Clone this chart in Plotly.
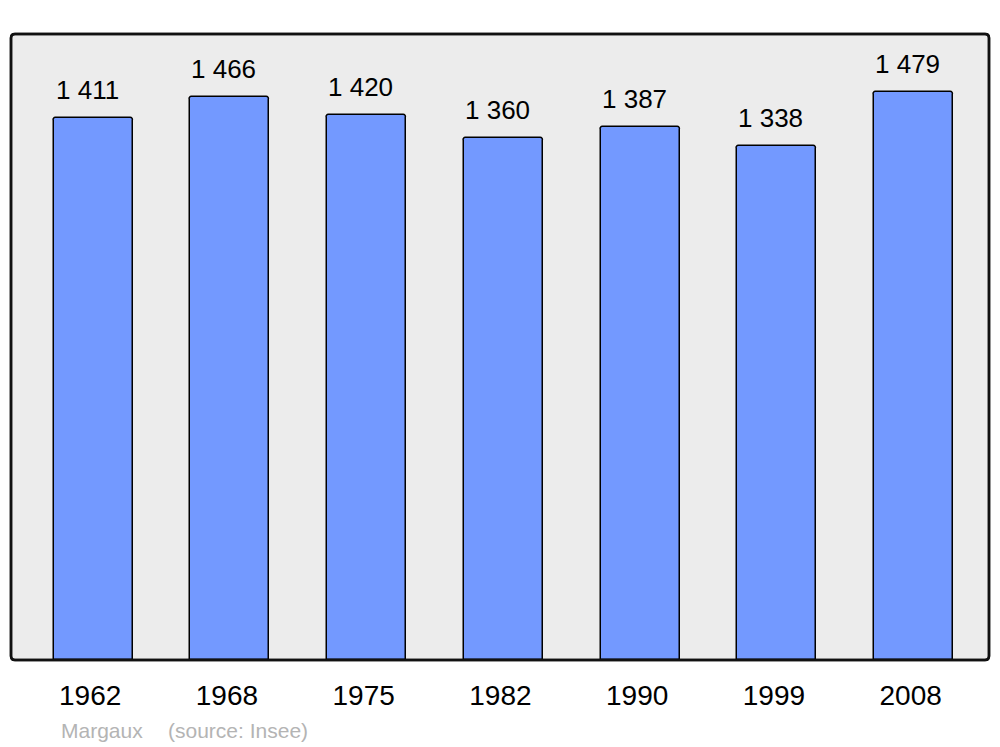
import plotly.graph_objects as go

years = ["1962", "1968", "1975", "1982", "1990", "1999", "2008"]
population = [1411, 1466, 1420, 1360, 1387, 1338, 1479]
value_labels = ["1 411", "1 466", "1 420", "1 360", "1 387", "1 338", "1 479"]
commune = "Margaux"
source = "(source: Insee)"

BAR_COLOR = "#7399ff"
BG_COLOR = "#ececec"
FONT = "Liberation Sans, Arial, sans-serif"

positions = list(range(len(years)))

fig = go.Figure()
fig.add_trace(go.Bar(
    x=positions,
    y=population,
    width=0.578,
    marker=dict(color=BAR_COLOR, line=dict(color="black", width=1.5), cornerradius=3),
    hoverinfo="skip",
))

for p, v, lab in zip(positions, population, value_labels):
    fig.add_annotation(x=p, y=v, text=lab, showarrow=False, xref="x", yref="y",
                       yanchor="middle", yshift=28, xshift=-6,
                       font=dict(family=FONT, size=26, color="black"))

# rounded border / background
rx, ry = 4 / 978, 4 / 626
path = (f"M {rx},0 L {1-rx},0 Q 1,0 1,{ry} L 1,{1-ry} Q 1,1 {1-rx},1 "
        f"L {rx},1 Q 0,1 0,{1-ry} L 0,{ry} Q 0,0 {rx},0 Z")
fig.add_shape(type="path", path=path, xref="paper", yref="paper",
              fillcolor=BG_COLOR, line=dict(color="#111111", width=2.5), layer="below")
fig.add_shape(type="path", path=path, xref="paper", yref="paper",
              fillcolor="rgba(0,0,0,0)", line=dict(color="#111111", width=2.5), layer="above")

fig.add_annotation(x=(59 - 11) / 978, y=(660 - 730) / 626, xref="paper", yref="paper",
                   text=commune, showarrow=False, xanchor="left", yanchor="middle",
                   font=dict(family=FONT, size=21, color="#b4b4b4"))
fig.add_annotation(x=(166 - 11) / 978, y=(660 - 730) / 626, xref="paper", yref="paper",
                   text=source, showarrow=False, xanchor="left", yanchor="middle",
                   font=dict(family=FONT, size=21, color="#b4b4b4"))

# page body has an 8px default margin: compensate so the plot lands at 11..989 x 34..660
fig.update_layout(
    width=992, height=739,
    margin=dict(l=3, r=11, t=26, b=87),
    paper_bgcolor="white",
    plot_bgcolor="rgba(0,0,0,0)",
    showlegend=False,
    bargap=0,
    xaxis=dict(range=[-0.601, 6.551], tickmode="array", tickvals=positions, ticktext=years,
               showgrid=False, zeroline=False, showline=False,
               ticks="outside", ticklen=10, tickcolor="rgba(0,0,0,0)",
               ticklabelshift=-3,
               tickfont=dict(family=FONT, size=28, color="black"), fixedrange=True),
    yaxis=dict(range=[0, 1630], showgrid=False, zeroline=False, showline=False,
               showticklabels=False, ticks="", fixedrange=True),
)

fig.write_html("out.html")
